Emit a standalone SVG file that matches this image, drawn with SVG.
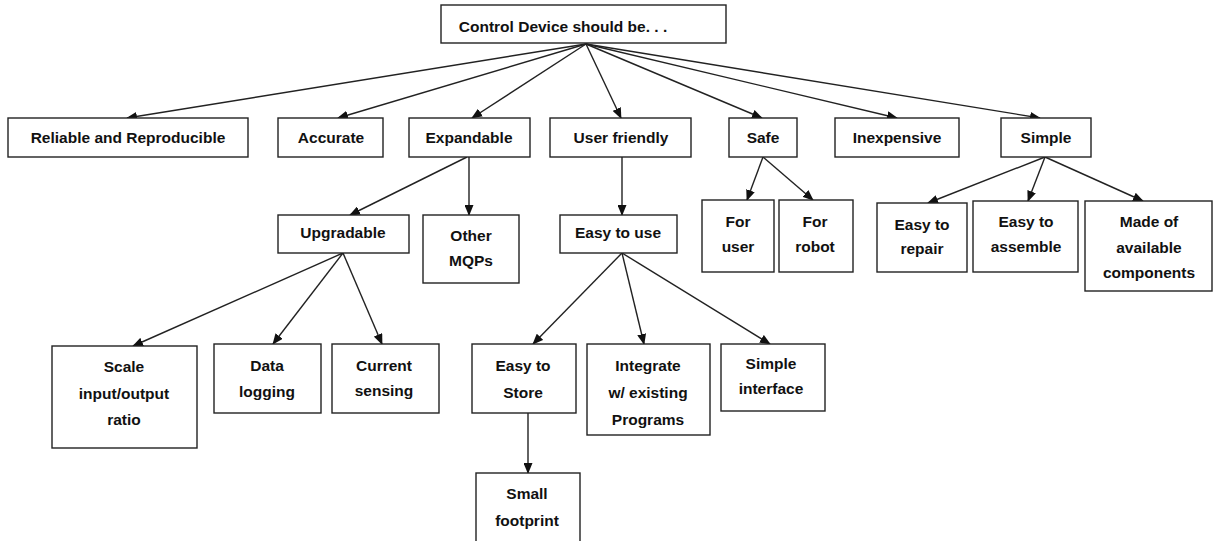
<svg xmlns="http://www.w3.org/2000/svg" width="1214" height="541" viewBox="0 0 1214 541">
<style>
.b{fill:#fff;stroke:#222;stroke-width:1.4}
.t{font-family:"Liberation Sans",Arial,sans-serif;font-weight:bold;font-size:15.5px;fill:#111;text-anchor:middle}
.c{fill:none;stroke:#222;stroke-width:1.4}
</style>
<defs>
<marker id="ah" markerUnits="userSpaceOnUse" markerWidth="11" markerHeight="9" refX="10" refY="4.5" orient="auto">
<path d="M0,0 L11,4.5 L0,9 z" fill="#111"/>
</marker>
</defs>
<rect width="1214" height="541" fill="#fff"/>
<g id="connectors">
<line class="c" x1="586" y1="44" x2="127" y2="118" marker-end="url(#ah)"/>
<line class="c" x1="586" y1="44" x2="338" y2="118" marker-end="url(#ah)"/>
<line class="c" x1="586" y1="44" x2="472" y2="118" marker-end="url(#ah)"/>
<line class="c" x1="586" y1="44" x2="621" y2="118" marker-end="url(#ah)"/>
<line class="c" x1="586" y1="44" x2="762" y2="118" marker-end="url(#ah)"/>
<line class="c" x1="586" y1="44" x2="897" y2="118" marker-end="url(#ah)"/>
<line class="c" x1="586" y1="44" x2="1040" y2="118" marker-end="url(#ah)"/>
<line class="c" x1="467" y1="157" x2="350" y2="215" marker-end="url(#ah)"/>
<line class="c" x1="469" y1="157" x2="469" y2="215" marker-end="url(#ah)"/>
<line class="c" x1="343" y1="253" x2="133" y2="346" marker-end="url(#ah)"/>
<line class="c" x1="343" y1="253" x2="273" y2="344" marker-end="url(#ah)"/>
<line class="c" x1="343" y1="253" x2="382" y2="344" marker-end="url(#ah)"/>
<line class="c" x1="622" y1="157" x2="622" y2="215" marker-end="url(#ah)"/>
<line class="c" x1="622" y1="253" x2="533" y2="344" marker-end="url(#ah)"/>
<line class="c" x1="622" y1="253" x2="644" y2="344" marker-end="url(#ah)"/>
<line class="c" x1="622" y1="253" x2="770" y2="344" marker-end="url(#ah)"/>
<line class="c" x1="528" y1="413" x2="528" y2="473" marker-end="url(#ah)"/>
<line class="c" x1="763" y1="157" x2="747" y2="200" marker-end="url(#ah)"/>
<line class="c" x1="763" y1="157" x2="813" y2="200" marker-end="url(#ah)"/>
<line class="c" x1="1045" y1="157" x2="928" y2="203" marker-end="url(#ah)"/>
<line class="c" x1="1045" y1="157" x2="1028" y2="201" marker-end="url(#ah)"/>
<line class="c" x1="1045" y1="157" x2="1143" y2="201" marker-end="url(#ah)"/>
</g>
<g id="root"><rect class="b" x="441" y="5" width="285" height="38"/><text class="t" x="563" y="32">Control Device should be. . .</text></g>
<g id="reliable"><rect class="b" x="8" y="118" width="240" height="39"/><text class="t" x="128" y="143">Reliable and Reproducible</text></g>
<g id="accurate"><rect class="b" x="278" y="118" width="105" height="39"/><text class="t" x="331" y="143">Accurate</text></g>
<g id="expandable"><rect class="b" x="409" y="118" width="121" height="39"/><text class="t" x="469" y="143">Expandable</text></g>
<g id="userfriendly"><rect class="b" x="550" y="118" width="141" height="39"/><text class="t" x="621" y="143">User friendly</text></g>
<g id="safe"><rect class="b" x="729" y="118" width="68" height="39"/><text class="t" x="763" y="143">Safe</text></g>
<g id="inexpensive"><rect class="b" x="835" y="118" width="124" height="39"/><text class="t" x="897" y="143">Inexpensive</text></g>
<g id="simple"><rect class="b" x="1001" y="118" width="90" height="39"/><text class="t" x="1046" y="143">Simple</text></g>
<g id="upgradable"><rect class="b" x="278" y="215" width="131" height="38"/><text class="t" x="343" y="238">Upgradable</text></g>
<g id="othermqps"><rect class="b" x="423" y="215" width="96" height="68"/><text class="t" x="471" y="241">Other</text><text class="t" x="471" y="266">MQPs</text></g>
<g id="easytouse"><rect class="b" x="560" y="215" width="117" height="38"/><text class="t" x="618" y="238">Easy to use</text></g>
<g id="foruser"><rect class="b" x="702" y="200" width="72" height="72"/><text class="t" x="738" y="227">For</text><text class="t" x="738" y="252">user</text></g>
<g id="forrobot"><rect class="b" x="779" y="200" width="74" height="72"/><text class="t" x="815" y="227">For</text><text class="t" x="815" y="252">robot</text></g>
<g id="easytorepair"><rect class="b" x="877" y="203" width="90" height="69"/><text class="t" x="922" y="230">Easy to</text><text class="t" x="922" y="254">repair</text></g>
<g id="easytoassemble"><rect class="b" x="973" y="201" width="105" height="71"/><text class="t" x="1026" y="227">Easy to</text><text class="t" x="1026" y="252">assemble</text></g>
<g id="madeof"><rect class="b" x="1085" y="201" width="127" height="90"/><text class="t" x="1149" y="227">Made of</text><text class="t" x="1149" y="253">available</text><text class="t" x="1149" y="278">components</text></g>
<g id="scale"><rect class="b" x="52" y="346" width="145" height="102"/><text class="t" x="124" y="372">Scale</text><text class="t" x="124" y="399">input/output</text><text class="t" x="124" y="425">ratio</text></g>
<g id="datalogging"><rect class="b" x="214" y="344" width="107" height="69"/><text class="t" x="267" y="371">Data</text><text class="t" x="267" y="397">logging</text></g>
<g id="currentsensing"><rect class="b" x="332" y="344" width="107" height="69"/><text class="t" x="384" y="371">Current</text><text class="t" x="384" y="396">sensing</text></g>
<g id="easytostore"><rect class="b" x="472" y="344" width="104" height="69"/><text class="t" x="523" y="371">Easy to</text><text class="t" x="523" y="398">Store</text></g>
<g id="integrate"><rect class="b" x="587" y="344" width="123" height="91"/><text class="t" x="648" y="371">Integrate</text><text class="t" x="648" y="398">w/ existing</text><text class="t" x="648" y="425">Programs</text></g>
<g id="simpleinterface"><rect class="b" x="721" y="344" width="104" height="67"/><text class="t" x="771" y="369">Simple</text><text class="t" x="771" y="394">interface</text></g>
<g id="smallfootprint"><rect class="b" x="476" y="473" width="104" height="75"/><text class="t" x="527" y="499">Small</text><text class="t" x="527" y="526">footprint</text></g>
</svg>
